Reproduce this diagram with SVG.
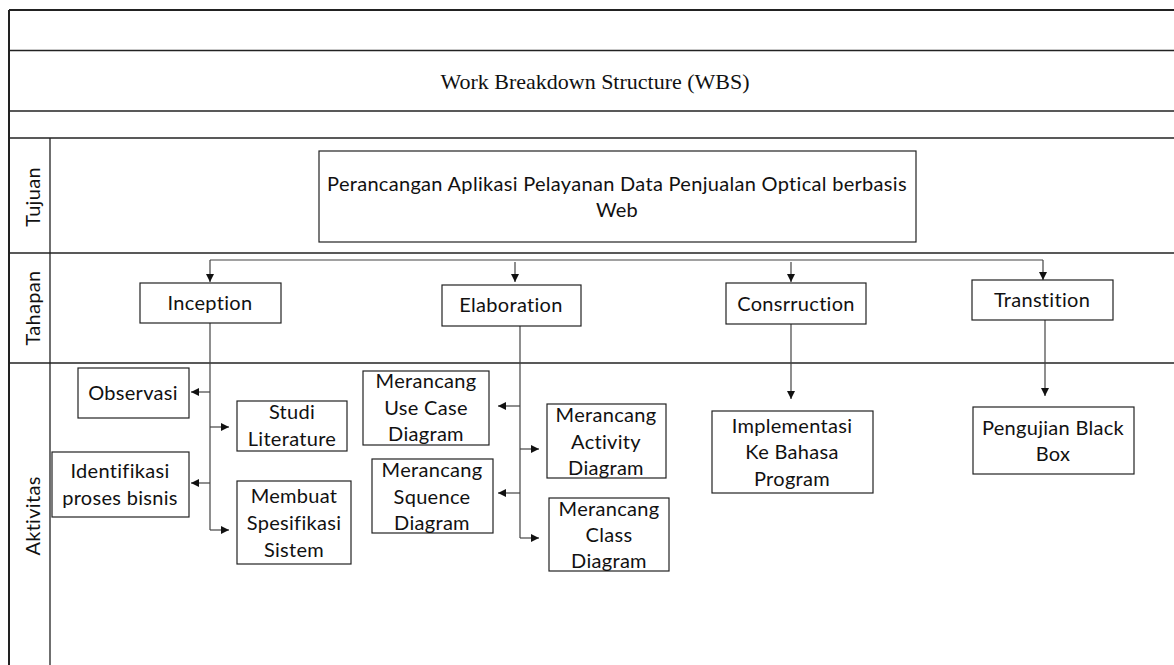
<svg xmlns="http://www.w3.org/2000/svg" width="1174" height="665" viewBox="0 0 1174 665">
<defs>
<style>
.frame{stroke:#222;stroke-width:1.3;fill:none}
.box{fill:#fff;stroke:#222;stroke-width:1.2}
.t{font-family:Lato,"Liberation Sans",sans-serif;font-size:20px;letter-spacing:0.3px;fill:#111;text-anchor:middle}
.title{font-family:"Liberation Serif",serif;font-size:22px;fill:#111;text-anchor:middle}
.con{stroke:#444;stroke-width:1.2;fill:none}
</style>
<marker id="ah" viewBox="0 0 10 10" refX="10" refY="5" markerWidth="8" markerHeight="8" markerUnits="userSpaceOnUse" orient="auto">
<path d="M0,0 L10,5 L0,10 z" fill="#111"/>
</marker>
</defs>
<rect width="1174" height="665" fill="#fff"/>
<g id="frame">
<line class="frame" x1="9" y1="10" x2="1174" y2="10" style="stroke-width:2"/>
<line class="frame" x1="9" y1="10" x2="9" y2="665" style="stroke-width:2"/>
<line class="frame" x1="9" y1="50.5" x2="1174" y2="50.5"/>
<line class="frame" x1="9" y1="111" x2="1174" y2="111"/>
<line class="frame" x1="9" y1="138" x2="1174" y2="138"/>
<line class="frame" x1="9" y1="253" x2="1174" y2="253"/>
<line class="frame" x1="9" y1="363" x2="1174" y2="363"/>
<line class="frame" x1="50" y1="138" x2="50" y2="665"/>
<text class="title" x="595" y="89">Work Breakdown Structure (WBS)</text>
<text class="t" transform="translate(40,197) rotate(-90)">Tujuan</text>
<text class="t" transform="translate(40,308) rotate(-90)">Tahapan</text>
<text class="t" transform="translate(40,516) rotate(-90)">Aktivitas</text>
</g>
<g id="connectors">
<polyline class="con" points="210,260 1043,260"/>
<line class="con" x1="210" y1="260" x2="210" y2="282" marker-end="url(#ah)"/>
<line class="con" x1="515" y1="262" x2="515" y2="282" marker-end="url(#ah)"/>
<line class="con" x1="791" y1="262" x2="791" y2="282" marker-end="url(#ah)"/>
<line class="con" x1="1043" y1="260" x2="1043" y2="280" marker-end="url(#ah)"/>
<line class="con" x1="210" y1="323" x2="210" y2="530"/>
<line class="con" x1="210" y1="392" x2="191" y2="392" marker-end="url(#ah)"/>
<line class="con" x1="210" y1="427" x2="229" y2="427" marker-end="url(#ah)"/>
<line class="con" x1="210" y1="483" x2="191" y2="483" marker-end="url(#ah)"/>
<line class="con" x1="210" y1="530" x2="229" y2="530" marker-end="url(#ah)"/>
<line class="con" x1="520" y1="326" x2="520" y2="538"/>
<line class="con" x1="520" y1="406" x2="498" y2="406" marker-end="url(#ah)"/>
<line class="con" x1="520" y1="449" x2="539" y2="449" marker-end="url(#ah)"/>
<line class="con" x1="520" y1="493" x2="498" y2="493" marker-end="url(#ah)"/>
<line class="con" x1="520" y1="538" x2="539" y2="538" marker-end="url(#ah)"/>
<line class="con" x1="791" y1="324" x2="791" y2="399" marker-end="url(#ah)"/>
<line class="con" x1="1045" y1="320" x2="1045" y2="396" marker-end="url(#ah)"/>
</g>
<g id="tujuan">
<rect class="box" x="319" y="151" width="597" height="91"/>
<text class="t" x="617" y="191">Perancangan Aplikasi Pelayanan Data Penjualan Optical berbasis</text>
<text class="t" x="617" y="217">Web</text>
</g>
<g id="inception">
<rect class="box" x="140" y="283" width="141" height="40"/>
<text class="t" x="210" y="310">Inception</text>
</g>
<g id="elaboration">
<rect class="box" x="442" y="285" width="139" height="41"/>
<text class="t" x="511" y="312">Elaboration</text>
</g>
<g id="construction">
<rect class="box" x="726" y="283" width="140" height="41"/>
<text class="t" x="796" y="311">Consrruction</text>
</g>
<g id="transition">
<rect class="box" x="972" y="280" width="141" height="40"/>
<text class="t" x="1042" y="307">Transtition</text>
</g>
<g id="observasi">
<rect class="box" x="78" y="368" width="111" height="50"/>
<text class="t" x="133" y="400">Observasi</text>
</g>
<g id="studi">
<rect class="box" x="237" y="401" width="110" height="50"/>
<text class="t" x="292" y="419">Studi</text>
<text class="t" x="292" y="446">Literature</text>
</g>
<g id="identifikasi">
<rect class="box" x="52" y="452" width="137" height="65"/>
<text class="t" x="120" y="478">Identifikasi</text>
<text class="t" x="120" y="505">proses bisnis</text>
</g>
<g id="membuat">
<rect class="box" x="237" y="481" width="114" height="83"/>
<text class="t" x="294" y="503">Membuat</text>
<text class="t" x="294" y="530">Spesifikasi</text>
<text class="t" x="294" y="557">Sistem</text>
</g>
<g id="usecase">
<rect class="box" x="363" y="371" width="126" height="74"/>
<text class="t" x="426" y="388">Merancang</text>
<text class="t" x="426" y="415">Use Case</text>
<text class="t" x="426" y="441">Diagram</text>
</g>
<g id="activity">
<rect class="box" x="547" y="404" width="119" height="74"/>
<text class="t" x="606" y="422">Merancang</text>
<text class="t" x="606" y="449">Activity</text>
<text class="t" x="606" y="475">Diagram</text>
</g>
<g id="squence">
<rect class="box" x="372" y="459" width="121" height="74"/>
<text class="t" x="432" y="477">Merancang</text>
<text class="t" x="432" y="504">Squence</text>
<text class="t" x="432" y="530">Diagram</text>
</g>
<g id="class">
<rect class="box" x="549" y="498" width="120" height="73"/>
<text class="t" x="609" y="516">Merancang</text>
<text class="t" x="609" y="542">Class</text>
<text class="t" x="609" y="568">Diagram</text>
</g>
<g id="implementasi">
<rect class="box" x="712" y="411" width="161" height="82"/>
<text class="t" x="792" y="433">Implementasi</text>
<text class="t" x="792" y="459">Ke Bahasa</text>
<text class="t" x="792" y="486">Program</text>
</g>
<g id="pengujian">
<rect class="box" x="973" y="407" width="161" height="67"/>
<text class="t" x="1053" y="435">Pengujian Black</text>
<text class="t" x="1053" y="461">Box</text>
</g>
</svg>
